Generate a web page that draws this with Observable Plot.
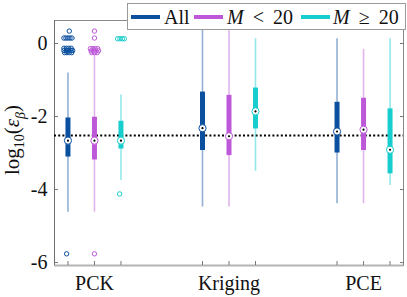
<!DOCTYPE html>
<html>
<head>
<meta charset="utf-8">
<script src="https://cdn.jsdelivr.net/npm/d3@7"></script>
<script src="https://cdn.jsdelivr.net/npm/@observablehq/plot@0.6"></script>
<style>
  html, body { margin: 0; padding: 0; background: white; }
  #wrap { position: relative; width: 407px; height: 297px; font-family: "Liberation Serif", serif; }
  #legend { position: absolute; left: 127px; top: 3px; width: 277px; height: 25px; border: 1px solid #9a9a9a; background: white; box-sizing: content-box; }
  #legend .sw { position: absolute; top: 11px; height: 4px; width: 29px; }
  #legend .lb { position: absolute; top: 0px; line-height: 26px; font-size: 20px; color: #111; white-space: nowrap; }
  #legend i { font-style: italic; }
</style>
</head>
<body>
<div id="wrap"></div>
<script>
// ---- data ----
const groups = ["PCK", "Kriging", "PCE"];
const seriesNames = ["All", "M < 20", "M ≥ 20"];
const seriesColors = ["#0b4f9f", "#bd58d8", "#17cdcd"];
// per box, group-major: PCK(All, M<20, M≥20), Kriging(...), PCE(...)
const whiskerLow  = [-4.62, -4.62, -3.75, -4.48, -4.48, -3.50, -4.39, -4.39, -3.89];
const q1          = [-3.11, -3.19, -2.89, -2.93, -3.07, -2.34, -3.00, -2.93, -3.57];
const medians     = [-2.66, -2.66, -2.66, -2.32, -2.54, -1.86, -2.41, -2.36, -2.91];
const q3          = [-2.04, -2.02, -2.13, -1.33, -1.42, -1.22, -1.61, -1.50, -1.79];
const whiskerHigh = [-0.81, -0.30, -1.41,  0.50,  0.50,  0.13,  0.13, -0.16,  0.13];
// outliers: [group, series, value, jitter]
const outliers = [
  [0,0, 0.34, 0.01],
  [0,0, 0.15,-0.03],[0,0, 0.15,-0.015],[0,0, 0.15,0],[0,0, 0.15,0.015],[0,0, 0.15,0.03],
  [0,0,-0.13,-0.03],[0,0,-0.13,-0.012],[0,0,-0.13,0.006],[0,0,-0.13,0.024],
  [0,0,-0.19,-0.03],[0,0,-0.19,-0.012],[0,0,-0.19,0.006],[0,0,-0.19,0.024],[0,0,-0.19,0.035],
  [0,0,-0.25,-0.025],[0,0,-0.25,-0.008],[0,0,-0.25,0.01],[0,0,-0.25,0.028],
  [0,0,-5.76,-0.01],
  [0,1, 0.34, 0],[0,1, 0.15, 0],
  [0,1,-0.14,-0.03],[0,1,-0.14,-0.012],[0,1,-0.14,0.006],[0,1,-0.14,0.024],
  [0,1,-0.20,-0.025],[0,1,-0.20,-0.008],[0,1,-0.20,0.01],[0,1,-0.20,0.03],
  [0,1,-0.25,-0.02],[0,1,-0.25,0],[0,1,-0.25,0.02],
  [0,1,-5.76, 0],
  [0,2, 0.13,-0.025],[0,2, 0.13,-0.008],[0,2, 0.13,0.01],[0,2, 0.13,0.025],
  [0,2,-4.12,-0.01]
];
const refLevel = -2.52;
const yTicks = [0, -2, -4, -6];
const yDomain = [-6.08, 0.63];
const xDomain = [0.703, 3.297];
const offset = 0.197;
const serif = "'Liberation Serif', serif";

// ---- build tables ----
const boxes = [];
groups.forEach((g, gi) => seriesNames.forEach((s, si) => {
  const i = gi * 3 + si;
  boxes.push({
    pos: gi + 1 + (si - 1) * offset, series: s, color: seriesColors[si],
    lo: whiskerLow[i], q1: q1[i], med: medians[i], q3: q3[i], hi: whiskerHigh[i]
  });
}));
const outs = outliers.map(([gi, si, v, j]) => ({
  x: gi + 1 + (si - 1) * offset + j, y: v, color: seriesColors[si]
}));
const tickPositions = boxes.map(d => d.pos);
const groupPositions = groups.map((g, i) => i + 1);

const chart = Plot.plot({
  width: 407, height: 297,
  marginLeft: 54, marginRight: 4, marginTop: 20, marginBottom: 32,
  x: { domain: xDomain },
  y: { domain: yDomain },
  style: { fontFamily: serif, fontSize: "20px", background: "white", color: "#111" },
  marks: [
    Plot.frame({ stroke: "#8a8a8a", strokeWidth: 1 }),
    Plot.ruleY([yDomain[0]], { stroke: "#b4b4b4", strokeWidth: 2 }),
    Plot.ruleX([xDomain[0]], { stroke: "#6e6e6e", strokeWidth: 1 }),
    Plot.axisY({ anchor: "left", ticks: yTicks, tickSize: -4, tickFormat: () => "", stroke: "#777" }),
    Plot.axisY({ anchor: "right", ticks: yTicks, tickSize: -4, tickFormat: () => "", stroke: "#777" }),
    Plot.axisY({ anchor: "left", ticks: yTicks, tickSize: 0, tickPadding: 7, tickFormat: d => String(d), fontSize: 20, fontFamily: serif, fill: "#111" }),
    Plot.axisX({ anchor: "bottom", ticks: tickPositions, tickSize: -4, tickFormat: () => "", stroke: "#777" }),
    Plot.axisX({ anchor: "bottom", ticks: groupPositions, tickSize: 0, tickPadding: 10, tickFormat: d => groups[Math.round(d) - 1], fontSize: 20, fontFamily: serif, fill: "#111" }),
    Plot.ruleY([refLevel], { stroke: "black", strokeWidth: 2, strokeDasharray: "2,2.2" }),
    Plot.ruleX(boxes, { x: "pos", y1: "lo", y2: "hi", stroke: "color", strokeWidth: 1.6, strokeOpacity: 0.45 }),
    Plot.ruleX(boxes, { x: "pos", y1: "q1", y2: "q3", stroke: "color", strokeWidth: 5 }),
    Plot.dot(outs, { x: "x", y: "y", stroke: "color", r: 2.2, strokeWidth: 1, fill: "none" }),
    Plot.dot(boxes, { x: "pos", y: "med", r: 3.6, fill: "white", stroke: "color", strokeWidth: 1 }),
    Plot.dot(boxes, { x: "pos", y: "med", r: 1.1, fill: "black" })
  ]
});

const wrap = document.getElementById("wrap");
wrap.appendChild(chart);

const svg = d3.select(chart);
svg.selectAll("text").style("font-family", serif).style("font-size", "20px");

// y label: log10(ε_β)
const t = svg.append("text")
  .attr("transform", "translate(19,140) rotate(-90)")
  .attr("text-anchor", "middle")
  .style("font-family", serif)
  .attr("font-size", 21)
  .attr("fill", "#111");
t.append("tspan").text("log");
t.append("tspan").attr("font-size", 14).attr("dy", 5).text("10");
t.append("tspan").attr("dy", -5).text("(");
t.append("tspan").attr("font-style", "italic").text("ε");
t.append("tspan").attr("font-style", "italic").attr("font-size", 14).attr("dy", 6).text("β");
t.append("tspan").attr("dy", -6).text(")");

// legend
const legend = document.createElement("div");
legend.id = "legend";
const swX = [3, 66, 173];
const lbX = [36, 99, 205];
const lbHtml = ["All", "<i>M</i>&thinsp; &lt; &thinsp;20", "<i>M</i>&thinsp; ≥ &thinsp;20"];
seriesNames.forEach((s, i) => {
  const sw = document.createElement("div");
  sw.className = "sw";
  sw.style.left = swX[i] + "px";
  sw.style.background = seriesColors[i];
  legend.appendChild(sw);
  const lb = document.createElement("div");
  lb.className = "lb";
  lb.style.left = lbX[i] + "px";
  lb.innerHTML = lbHtml[i];
  legend.appendChild(lb);
});
wrap.appendChild(legend);
</script>
</body>
</html>
